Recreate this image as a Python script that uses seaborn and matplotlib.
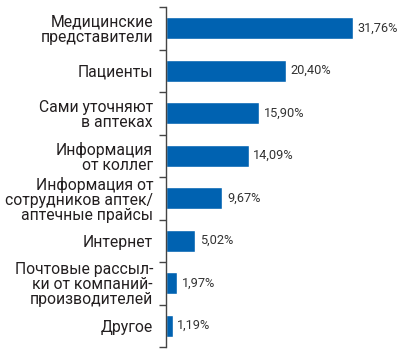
import matplotlib
matplotlib.use("Agg")
import matplotlib.pyplot as plt
import seaborn as sns
import pandas as pd
import numpy as np

categories = [
    "Медицинские\nпредставители",
    "Пациенты",
    "Сами уточняют\nв аптеках",
    "Информация\nот коллег",
    "Информация от\nсотрудников аптек/\nаптечные прайсы",
    "Интернет",
    "Почтовые рассыл-\nки от компаний-\nпроизводителей",
    "Другое",
]
values = [31.76, 20.40, 15.90, 14.09, 9.67, 5.02, 1.97, 1.19]
value_labels = ["31,76%", "20,40%", "15,90%", "14,09%", "9,67%", "5,02%", "1,97%", "1,19%"]

sns.set_theme(style="white")
plt.rcParams['font.family'] = ['Roboto', 'DejaVu Sans']

df = pd.DataFrame({"cat": categories, "val": values})

fig = plt.figure(figsize=(4.0, 3.57), dpi=100)
ax = fig.add_axes([165.5/400, 10/357, 1 - 165.5/400, 340/357])

sns.barplot(data=df, x="val", y="cat", orient="h", color="#0062B1",
            width=0.52, ax=ax, saturation=1)

ax.set_xlim(0, (400 - 165.5) / 5.894)
ax.set_ylim(7.5, -0.5)
ax.set_xlabel("")
ax.set_ylabel("")
ax.set_xticks([])
for s in ["top", "right", "bottom"]:
    ax.spines[s].set_visible(False)
ax.spines["left"].set_color("#444444")
ax.spines["left"].set_linewidth(1.0)

ax.set_yticks(range(len(categories)))
ax.set_yticklabels(categories, fontsize=11.3, color="#231F20", linespacing=1.0)
ax.tick_params(axis="y", which="major", length=0, pad=9)
ax.set_yticks(np.arange(-0.5, len(categories), 1.0), minor=True)
ax.tick_params(axis="y", which="minor", length=5, width=1.0, color="#444444", left=True)

for i, (v, lab) in enumerate(zip(values, value_labels)):
    ax.annotate(lab, xy=(v, i), xytext=(3.5, 0), textcoords="offset points",
                va="center", ha="left", fontsize=9.2, color="#333333")

fig.savefig("out.png", dpi=100)
